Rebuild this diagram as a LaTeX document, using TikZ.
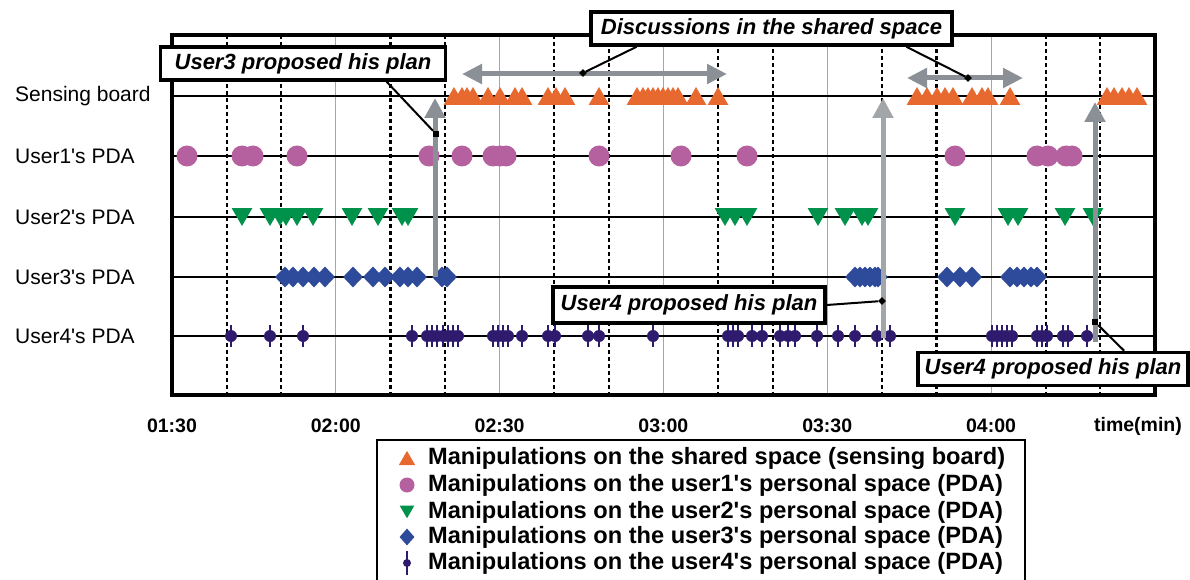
\documentclass[tikz,border=0pt]{standalone}
\usepackage{fontspec}
\setmainfont{Liberation Sans}
\newfontfamily\plainsans{Liberation Sans}
\usepackage{tikz}
\usetikzlibrary{positioning, calc}
\usetikzlibrary{arrows.meta}
\usetikzlibrary{shapes}

\definecolor{sbOrange}{HTML}{E8692F}
\definecolor{pOnePink}{HTML}{B5619F}
\definecolor{pTwoGreen}{HTML}{00914A}
\definecolor{pThreeBlue}{HTML}{2E4B9B}
\definecolor{pFourIndigo}{HTML}{2E1B6E}
\definecolor{arrGray}{HTML}{8A9095}
\definecolor{arrLight}{HTML}{A3A6A9}

\begin{document}
\begin{tikzpicture}[x=1pt,y=-1pt]
	\def \rowsb{96}
	\def \rowone{156}
	\def \rowtwo{217}
	\def \rowthree{277}
	\def \rowfour{336}
	\def \plotl{172}
	\def \plotr{1155}
	\def \plott{35}
	\def \plotb{395}
	\tikzstyle{sb-node}=[regular polygon,regular polygon sides=3,fill=sbOrange,inner sep=0pt,minimum size=24pt,yshift=-3pt]
	\tikzstyle{p1-node}=[circle,fill=pOnePink,inner sep=0pt,minimum size=21pt]
	\tikzstyle{p2-node}=[regular polygon,regular polygon sides=3,shape border rotate=180,fill=pTwoGreen,inner sep=0pt,minimum size=24pt,yshift=3pt]
	\tikzstyle{p3-node}=[diamond,fill=pThreeBlue,inner sep=0pt,minimum width=20pt,minimum height=21pt]
	\tikzstyle{p4-node}=[circle,fill=pFourIndigo,inner sep=0pt,minimum size=12pt]
	\tikzstyle{p4-tick}=[draw=pFourIndigo,line width=2.2pt]
	\tikzstyle{row-label}=[anchor=west,inner sep=0pt,font=\plainsans\fontsize{21}{25}\selectfont]
	\tikzstyle{time-label}=[inner sep=0pt,font=\fontsize{19.5}{23}\selectfont\bfseries]
	\tikzstyle{annot}=[draw=black,line width=3.5pt,fill=white,inner sep=0pt,minimum height=33pt,font=\fontsize{22}{26}\selectfont\bfseries\itshape]
	\tikzstyle{lead}=[draw=black,line width=2pt]
	\tikzstyle{lead-sq}=[rectangle,fill=black,inner sep=0pt,minimum size=6pt]
	\tikzstyle{lead-dm}=[diamond,fill=black,inner sep=0pt,minimum size=8pt]
	\tikzstyle{big-arr}=[draw=arrGray,line width=5pt,-{Triangle[width=20pt,length=20pt]}]
	\tikzstyle{dbl-arr}=[draw=arrGray,line width=5pt,{Triangle[width=19pt,length=20pt]}-{Triangle[width=19pt,length=20pt]}]
	\tikzstyle{legend-text}=[anchor=west,inner sep=0pt,font=\plainsans\fontsize{23.6}{27}\selectfont\bfseries]

	\useasboundingbox (0,0) rectangle (1190,580);

	% grid
	\foreach \t in {3,6,9,12,15}
		\draw[gray!70,line width=1pt] (\plotl+\t*54.6,\plott) -- (\plotl+\t*54.6,\plotb);
	\foreach \t in {1,2,4,5,7,8,10,11,13,14,16,17}
		\draw[black,line width=2.2pt,dash pattern=on 4pt off 3pt] (\plotl+\t*54.6,\plott) -- (\plotl+\t*54.6,\plotb);
	\foreach \y in {\rowsb,\rowone,\rowtwo,\rowthree,\rowfour}
		\draw[black,line width=1.3pt] (\plotl,\y) -- (\plotr,\y);

	% labels
	\node[row-label] (sb-label) at (15,\rowsb) {Sensing board};
	\node[row-label] (p1-label) at (15,\rowone) {User1's PDA};
	\node[row-label] (p2-label) at (15,\rowtwo) {User2's PDA};
	\node[row-label] (p3-label) at (15,\rowthree) {User3's PDA};
	\node[row-label] (p4-label) at (15,\rowfour) {User4's PDA};

	\foreach \t/\txt in {0/01:30,3/02:00,6/02:30,9/03:00,12/03:30,15/04:00}
		\node[time-label] (t\t) at (\plotl+\t*54.6,426) {\txt};
	\node[time-label] (t-unit) at (1138,426) {time(min)};

	% sensing board
	\foreach \x [count=\i] in {454,462,467,473,488,500,515,522,548,556,565,599,
		637,643,648,653,658,663,668,673,678,696,718,
		917,927,937,945,953,972,982,988,1010,1107,1114,1122,1129,1137}
		\node[sb-node] (sb\i) at (\x,\rowsb) {};

	% user1
	\foreach \x [count=\i] in {187,242,253,297,429,462,493,500,506,599,681,747,955,1037,1048,1066,1072}
		\node[p1-node] (p1\i) at (\x,\rowone) {};

	% user2
	\foreach \x [count=\i] in {242,270,280,286,297,313,352,378,402,408,725,735,747,818,845,862,868,955,1008,1018,1065,1093}
		\node[p2-node] (p2\i) at (\x,\rowtwo) {};

	% user3
	\foreach \x [count=\i] in {285,293,303,314,325,353,373,385,400,408,417,442,447,
		855,860,865,870,875,878,947,960,972,1010,1017,1024,1031,1037}
		\node[p3-node] (p3\i) at (\x,\rowthree) {};

	% user4
	\foreach \x [count=\i] in {231,270,303,412,427,432,437,443,448,453,458,493,498,503,508,522,548,555,588,599,653,
		728,733,738,752,762,780,788,795,817,838,855,877,890,992,997,1002,1007,1012,1037,1042,1047,1063,1068,1087} {
		\node[p4-node] (p4\i) at (\x,\rowfour) {};
		\draw[p4-tick] ($(p4\i)+(0,-11)$) -- ($(p4\i)+(0,11)$);
	}

	% proposal arrows
	\coordinate (up1-s) at (435,\rowthree);
	\coordinate (up1-e) at (435,98);
	\coordinate (up2-s) at (883,338);
	\coordinate (up2-e) at (883,98);
	\coordinate (up3-s) at (1095,342);
	\coordinate (up3-e) at (1095,102);
	\draw[big-arr] (up1-s) -- (up1-e);
	\draw[big-arr,draw=arrLight] (up2-s) -- (up2-e);
	\draw[big-arr] (up3-s) -- (up3-e);

	% discussion arrows
	\coordinate (disc1-l) at (462,74);
	\coordinate (disc1-r) at (727,74);
	\coordinate (disc2-l) at (907,78);
	\coordinate (disc2-r) at (1023,78);
	\draw[dbl-arr] (disc1-l) -- (disc1-r);
	\draw[dbl-arr] (disc2-l) -- (disc2-r);

	% frame
	\draw[black,line width=3.5pt] (\plotl,\plott) rectangle (\plotr,\plotb);

	% annotations
	\node[annot,minimum width=285pt] (plan3-box) at (303,63.5) {User3 proposed his plan};
	\node[annot,minimum width=361pt] (disc-box) at (771.5,28.5) {Discussions in the shared space};
	\node[annot,minimum width=272pt,minimum height=36pt] (plan4a-box) at (689,305) {User4 proposed his plan};
	\node[annot,minimum width=270pt] (plan4b-box) at (1053,369) {User4 proposed his plan};

	\node[lead-sq] (plan3-pt) at (436,134) {};
	\node[lead-dm] (disc1-pt) at (583,73) {};
	\node[lead-dm] (disc2-pt) at (968,78) {};
	\node[lead-dm] (plan4a-pt) at (882,301) {};
	\node[lead-sq] (plan4b-pt) at (1095,322) {};

	\draw[lead] ($(plan3-box.south west)!0.79!(plan3-box.south east)$) -- (plan3-pt);
	\draw[lead] ($(disc-box.south west)!0.13!(disc-box.south east)$) -- (disc1-pt);
	\draw[lead] ($(disc-box.south west)!0.87!(disc-box.south east)$) -- (disc2-pt);
	\draw[lead] (plan4a-box.east) -- (plan4a-pt);
	\draw[lead] ($(plan4b-box.north west)!0.76!(plan4b-box.north east)$) -- (plan4b-pt);

	% legend
	\draw[black,line width=2.5pt] (377,600) |- (1025,440) -- (1025,600);
	\node[sb-node,minimum size=19pt,yshift=0.6pt] (lg-sb) at (407,458) {};
	\node[p1-node,minimum size=15pt] (lg-p1) at (407,485) {};
	\node[p2-node,minimum size=17pt,yshift=-0.8pt] (lg-p2) at (407,512) {};
	\node[p3-node,minimum width=15pt,minimum height=17pt] (lg-p3) at (407,537) {};
	\node[p4-node,minimum size=8pt] (lg-p4) at (407,563) {};
	\draw[p4-tick] ($(lg-p4)+(0,-12)$) -- ($(lg-p4)+(0,12)$);
	\node[legend-text] (lg-sb-txt) at (428,458) {Manipulations on the shared space (sensing board)};
	\node[legend-text] (lg-p1-txt) at (428,485) {Manipulations on the user1's personal space (PDA)};
	\node[legend-text] (lg-p2-txt) at (428,512) {Manipulations on the user2's personal space (PDA)};
	\node[legend-text] (lg-p3-txt) at (428,537) {Manipulations on the user3's personal space (PDA)};
	\node[legend-text] (lg-p4-txt) at (428,563) {Manipulations on the user4's personal space (PDA)};
\end{tikzpicture}
\end{document}
